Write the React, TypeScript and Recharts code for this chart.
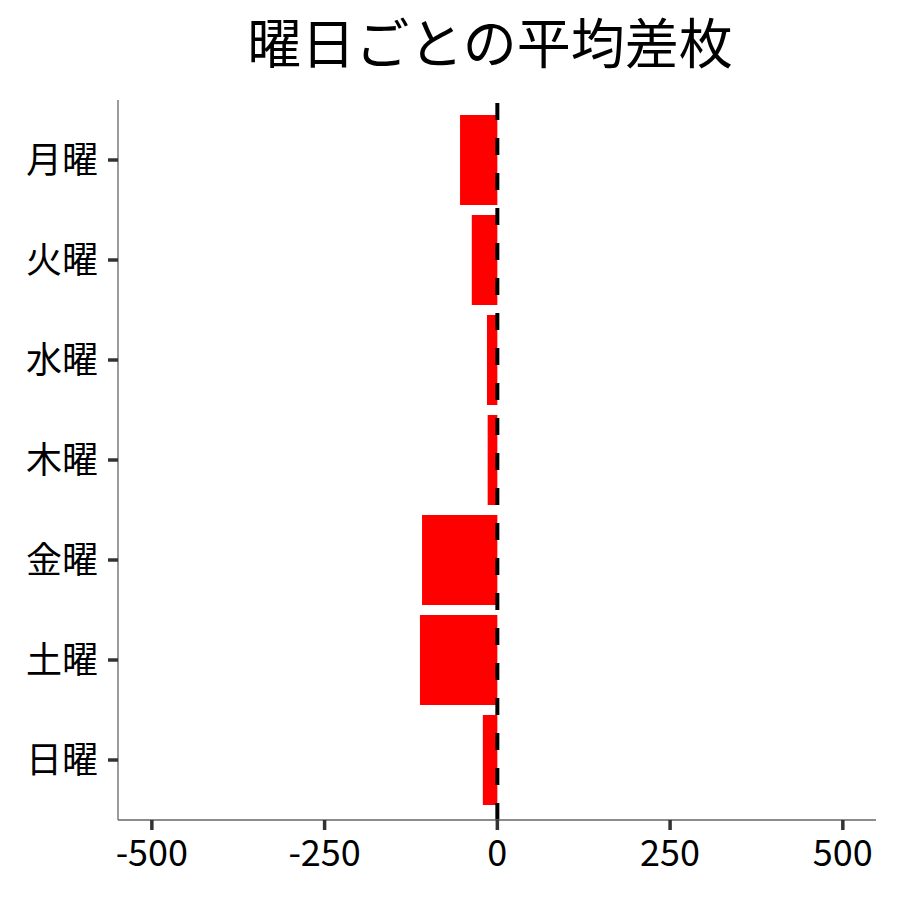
import React from 'react';
import { BarChart, Bar, XAxis, YAxis, ReferenceLine } from 'recharts';

const days = ['月曜', '火曜', '水曜', '木曜', '金曜', '土曜', '日曜'];
const meanDiff = [-54, -37, -15, -14, -109, -112, -21];
const xTicks = [-500, -250, 0, 250, 500];
const title = '曜日ごとの平均差枚';

const data = days.map((d, i) => ({ day: d, value: meanDiff[i] }));

const FONT = '"Noto Sans CJK JP", "Noto Sans", sans-serif';

export default function App() {
  return (
    <div style={{ position: 'fixed', left: 0, top: 0, width: 900, height: 900, background: '#fff' }}>
      <svg width={900} height={90} style={{ position: 'absolute', left: 0, top: 0 }}>
        <text x={490} y={64} textAnchor="middle" fontSize={54} fontFamily={FONT} fill="#000">
          {title}
        </text>
      </svg>
      <div style={{ position: 'absolute', left: 0, top: 0 }}>
        <BarChart
          width={900}
          height={900}
          data={data}
          layout="vertical"
          margin={{ top: 100, right: 24, bottom: 20, left: 0 }}
          barCategoryGap="5%"
        >
          <XAxis
            type="number"
            domain={[-549, 548]}
            ticks={xTicks}
            allowDataOverflow
            height={60}
            axisLine={{ stroke: '#666666', strokeWidth: 1.3 }}
            tickLine={{ stroke: '#333333', strokeWidth: 3.5 }}
            tickSize={10}
            tickMargin={10}
            tick={{ fill: '#000', fontSize: 36, fontFamily: FONT }}
          />
          <YAxis
            type="category"
            dataKey="day"
            width={118}
            padding={{ top: 10, bottom: 10 }}
            axisLine={{ stroke: '#666666', strokeWidth: 1.3 }}
            tickLine={{ stroke: '#333333', strokeWidth: 3.5 }}
            tickSize={10}
            tickMargin={10}
            tick={{ fill: '#000', fontSize: 36, fontFamily: FONT }}
          />
          <Bar dataKey="value" fill="#ff0000" isAnimationActive={false} />
          <ReferenceLine x={0} stroke="#000" strokeWidth={4} strokeDasharray="17 18" />
        </BarChart>
      </div>
    </div>
  );
}
